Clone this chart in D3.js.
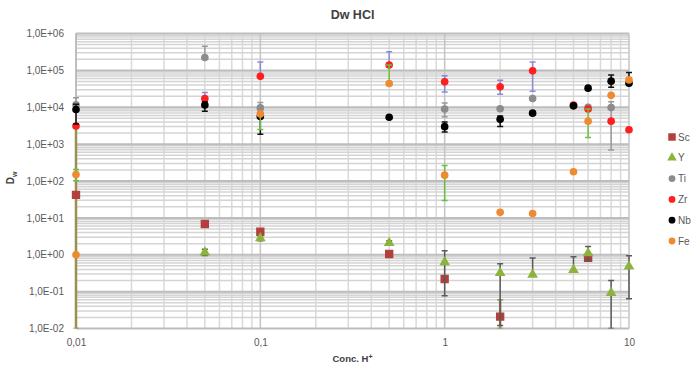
<!DOCTYPE html>
<html><head><meta charset="utf-8">
<script src="https://cdn.jsdelivr.net/npm/d3@7"></script>
<style>body{margin:0;background:#fff}svg{display:block;font-family:"Liberation Sans",Arial,sans-serif}</style>
</head><body><svg id="c" width="691" height="369"></svg>
<script>
// ---- data: [conc, value, errLow, errHigh] ----
const seriesNames = ["Sc","Y","Ti","Zr","Nb","Fe"];
const Sc = [[0.01,42,0.01,3000],[0.05,6.8],[0.1,4.2],[0.5,1.05],[1,0.22],[2,0.021,0.01,0.06],[6,0.82]];
const Yv = [[0.05,1.15,0.95,1.4],[0.1,2.8,2.4,3.3],[0.5,2.1,1.8,2.4],[1,0.63,0.077,1.29],[2,0.32,0.012,0.57],[3,0.29,0.29,0.81],[5,0.39,0.39,0.88],[6,1.1,0.7,1.68],[8,0.093,0.01,0.2],[10,0.48,0.064,0.94]];
const Ti = [[0.01,11700,8000,18000],[0.05,224000,224000,450000],[0.1,9600,7000,13400],[1,8900,5500,13000],[2,9100],[3,17300],[5,11000],[6,10000,10000,10500],[8,9800,690,14000]];
const Zr = [[0.01,3100],[0.05,17300,17300,25000],[0.1,69000,69000,170000],[0.5,139000,139000,320000],[1,49000,26000,71000],[2,35700,22600,54000],[3,97000,27000,170000],[5,11500],[6,8900],[8,4200],[10,2460]];
const Nb = [[0.01,8700,3500,12000],[0.05,11500,7800,14000],[0.1,5600,1840,7000],[0.5,5350],[1,2980,2130,3980],[2,4700,2990,5800],[3,6900],[5,10900],[6,33000],[8,51000,35000,75000],[10,45000,45000,88000]];
const Fe = [[0.01,150,102,204],[0.01,1.0],[0.1,6600,2500,6600],[0.5,44000,44000,139000],[1,144,29.5,265],[2,14.1],[3,13.1],[5,178],[6,4200,1520,8900],[8,21000],[10,55000]];
const xTickValues = [0.01,0.1,1,10];
const xTickLabels = ["0,01","0,1","1","10"];
const yTickValues = [1e-2,1e-1,1e0,1e1,1e2,1e3,1e4,1e5,1e6];
const yTickLabels = ["1,0E-02","1,0E-01","1,0E+00","1,0E+01","1,0E+02","1,0E+03","1,0E+04","1,0E+05","1,0E+06"];

const allSeries = [Sc,Yv,Ti,Zr,Nb,Fe];
const colors = ["#b2403c","#8cb43c","#8c8c8c","#ff1f1f","#000000","#f08a30"];
const errColors = ["#9a9050","#5a5a5a","#9a9a9a","#8a8ad8","#111111","#6cc040"];
const shapes = ["square","triangle","circle","circle","circle","circle"];

const svg = d3.select("#c");
const L=76, R=629, T=33.5, B=328.5;
const x = d3.scaleLog().domain([0.01,10]).range([L,R]);
const y = d3.scaleLog().domain([0.01,1e6]).range([B,T]);

const g = svg.append("g");
// minor gridlines
const minorX=[], minorY=[];
for (let e=-2;e<1;e++) for (let m=2;m<=9;m++) minorX.push(m*Math.pow(10,e));
for (let e=-2;e<6;e++) for (let m=2;m<=9;m++) minorY.push(m*Math.pow(10,e));
g.selectAll(".mx").data(minorX).join("line").attr("x1",d=>x(d)).attr("x2",d=>x(d)).attr("y1",T).attr("y2",B)
 .attr("stroke","#dadada").attr("stroke-width",1.5);
g.selectAll(".my").data(minorY).join("line").attr("y1",d=>y(d)).attr("y2",d=>y(d)).attr("x1",L).attr("x2",R)
 .attr("stroke","#d4d4d4").attr("stroke-width",1.5);
g.selectAll(".Mx").data(xTickValues).join("line").attr("x1",d=>x(d)).attr("x2",d=>x(d)).attr("y1",T).attr("y2",B)
 .attr("stroke","#c4c4c4").attr("stroke-width",1.5);
g.selectAll(".My").data(yTickValues).join("line").attr("y1",d=>y(d)).attr("y2",d=>y(d)).attr("x1",L).attr("x2",R)
 .attr("stroke","#bdbdbd").attr("stroke-width",2);

// axes (labels only)
const xAxis = d3.axisBottom(x).tickValues(xTickValues).tickFormat((d,i)=>xTickLabels[i]).tickSize(0).tickPadding(10);
const yAxis = d3.axisLeft(y).tickValues(yTickValues).tickFormat((d,i)=>yTickLabels[i]).tickSize(0).tickPadding(12);
const gx = svg.append("g").attr("transform",`translate(0,${B})`).call(xAxis);
const gy = svg.append("g").attr("transform",`translate(${L},0)`).call(yAxis);
[gx,gy].forEach(a=>{a.select(".domain").remove();a.selectAll("text").attr("fill","#595959").style("font-size","10px").style("font-family","'Liberation Sans',Arial,sans-serif");});
svg.append("line").attr("x1",L).attr("x2",L).attr("y1",T).attr("y2",B).attr("stroke","#aaaaaa").attr("stroke-width",1);

// error bars + markers
const clip = svg.append("clipPath").attr("id","pc").append("rect").attr("x",L-6).attr("y",T-6).attr("width",R-L+12).attr("height",B-T+6);
const sym = {square:d3.symbolSquare, triangle:d3.symbolTriangle, circle:d3.symbolCircle};
const sizes = {square:70, triangle:50, circle:46};
allSeries.forEach((s,i)=>{
  const gs = svg.append("g").attr("clip-path","url(#pc)");
  const eb = s.filter(d=>d.length>2);
  gs.selectAll("line.e").data(eb).join("line").attr("x1",d=>x(d[0])).attr("x2",d=>x(d[0]))
    .attr("y1",d=>y(d[2])).attr("y2",d=>y(d[3])).attr("stroke",errColors[i]).attr("stroke-width",i===0?2.5:1.5);
  const caps = [];
  eb.forEach(d=>{ if(d[2]<d[1]) caps.push([d[0],d[2]]); if(d[3]>d[1]) caps.push([d[0],d[3]]); });
  gs.selectAll("line.c").data(caps).join("line").attr("x1",d=>x(d[0])-3).attr("x2",d=>x(d[0])+3)
    .attr("y1",d=>y(d[1])).attr("y2",d=>y(d[1])).attr("stroke",errColors[i]).attr("stroke-width",1.5);
  gs.selectAll("path").data(s).join("path")
    .attr("d",d3.symbol().type(sym[shapes[i]]).size(sizes[shapes[i]]))
    .attr("transform",d=>`translate(${x(d[0])},${y(d[1])})`).attr("fill",colors[i]);
});

// legend
const lg = svg.append("g");
seriesNames.forEach((n,i)=>{
  const ly = 137 + i*20.8;
  lg.append("path").attr("d",d3.symbol().type(sym[shapes[i]]).size(sizes[shapes[i]]*0.8)).attr("transform",`translate(672,${ly})`).attr("fill",colors[i]);
  lg.append("text").attr("x",678).attr("y",ly+3.5).text(n).attr("fill","#595959").style("font-size","10px");
});

// titles
svg.append("text").attr("x",(L+R)/2).attr("y",19).attr("text-anchor","middle").attr("fill","#404040")
  .style("font-size","12.5px").style("font-weight","bold").text("Dw HCl");
const xt = svg.append("text").attr("x",(L+R)/2).attr("y",362).attr("text-anchor","middle").attr("fill","#404040")
  .style("font-size","9.5px").style("font-weight","bold");
xt.append("tspan").text("Conc. H");
xt.append("tspan").attr("dy",-3).style("font-size","7px").text("+");
const yt = svg.append("text").attr("transform","translate(14,178) rotate(-90)").attr("text-anchor","middle").attr("fill","#404040")
  .style("font-size","10px").style("font-weight","bold");
yt.append("tspan").text("D");
yt.append("tspan").attr("dy",3).style("font-size","7px").text("w");
</script></body></html>
